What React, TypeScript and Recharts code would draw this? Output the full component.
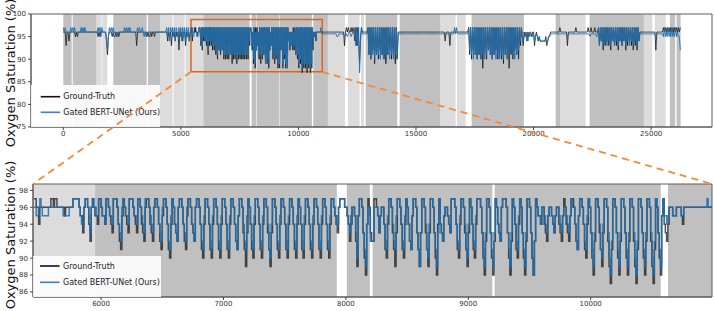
import React from "react";
import { ComposedChart, Line, XAxis, YAxis, ReferenceArea, Legend } from "recharts";

const FONT = "'DejaVu Sans', sans-serif";

// ---------------- data ----------------
// sleep-stage background bands (sample index)
const darkBands: [number, number][] = [
  [0, 357], [400, 1420], [2126, 3546], [3601, 4112], [5951, 7926], [8008, 8196], [8218, 9196],
  [9216, 10572], [10632, 11255], [12858, 14202], [14304, 16047], [17365, 19589], [20937, 21150],
  [22383, 24692], [25797, 26020], [26080, 26252],
];
const lightBands: [number, number][] = [
  [1420, 1633], [1660, 1871], [4112, 4650], [4690, 5160], [5200, 5951], [11255, 11978], [12105, 12600],
  [12660, 12786], [16047, 16685], [16740, 17110], [21150, 22213], [24692, 25045], [25160, 25615],
];

const topXTicks = [0, 5000, 10000, 15000, 20000, 25000];
const topYTicks = [75, 80, 85, 90, 95, 100];
const zoomXTicks = [6000, 7000, 8000, 9000, 10000];
const zoomYTicks = [86, 88, 90, 92, 94, 96, 98];
const zoomBox = [5430, 11012, 87.2, 98.8]; // x1, x2, y1, y2 of the magnified window

// SpO2 traces, one character per sample: '0'-'9' -> 90-99, a=89, b=88, c=87, d=86, h=95.6
const gtHead = [
  "666", "3", "66", "4", "666666", "565", "666666666666666666666", "5656", "66666", "4", "1", "5", "666",
  "565565656", "6666666666666666", "6", "3", "6666666666", "565565665666", "666666666",
  "646563656465626564663656466",
].join("");
const predHead = [
  "76766", "66", "6767676", "66666", "767676", "666666666666", "767576", "666", "4", "2", "5", "767676",
  "6656666666", "7676767666666", "6", "76766765656666", "66666666666666666", "757476757476575747574757467",
].join("");

const gtDetail = [
  "7766466666", "6666776776", "6666656666", "6677777655", "3677642",
  "676554", "776554", "776543", "7776421", "576543", "7776543", "776432", "6776432", "6776421", "5776410",
  "476432", "6776421", "5776432", "6776410", "4776410", "4776410", "4776410", "4776421", "577631a", "376410",
  "4776410", "477631a", "3776410", "4776410", "4776410", "476410", "4776410", "4776410", "4776410", "4776543",
  "6777766542", "46652a", "577630b", "47632277653", "566410", "477631a", "3776410", "476421", "577631a",
  "377631a", "377630b", "47432", "566543", "7776410", "477631a", "376410", "4777630b", "277630b", "276432",
  "6777630b", "276410", "47630b", "277630b", "276554", "66432", "566543", "566432", "576432", "5776421",
  "5776410", "47630b", "277631a", "37762ac", "177630b", "277630b", "27762ac", "177630b", "27762ac", "17630b",
  "57432", "4666555666654", "666666666666666666666666",
].join("");
const predDetail = [
  "6655676555", "5566666666", "6666555556", "6677777654", "4677653",
  "676655", "776554", "776554", "7776432", "676554", "7776554", "776543", "7776543", "6776432", "6776421",
  "576432", "6776432", "6776432", "6776421", "5776421", "5776421", "5776421", "5776421", "5776421", "576421",
  "5776421", "5776410", "4776421", "5776421", "5776421", "576421", "5776421", "5776421", "5776421", "5776554",
  "6777766543", "566530", "577631a", "46522266653", "566421", "5776421", "5776421", "576421", "577631a",
  "3776410", "477631a", "37432", "566543", "7776421", "5776410", "476421", "5777631a", "377631a", "376432",
  "6777631a", "376421", "57631a", "377630b", "276554", "66543", "566543", "566543", "566543", "5766421",
  "5776421", "57631a", "3776410", "477630b", "277631a", "377631a", "377630b", "277631a", "377630b", "27631a",
  "57554", "5666555666655", "6666666666666666666", "7", "6666",
].join("");

const gtTail = [
  "6666666666666666", "66", "666666", "3", "6", "767667676", "47374a57", "666666",
  "7170727a71", "707271707a", "717270717a", "70", "6666666666",
  "6666666666666666666666666666666666666666", "4", "666", "6", "3", "6666666666666666666",
  "7170727170", "71707b7170", "7271707172", "7071707a71", "707b717072", "71707375",
  "3", "65646566566", "3", "5654544444453", "4556666",
  "666666", "7", "6666666", "3", "66666666", "7", "66666666666", "676676667666",
  "7374727374", "7372747373", "7274737472", "7374737273", "7274", "6",
  "6666666666666666", "2", "6666666", "7676767676767676767",
].join("");
const predTail = [
  "hhhhhhhhhhhhhhhh", "55", "hhhhhh", "5", "h", "h5h6h5h6h", "73737c47", "hhhhhh",
  "7170717071", "7170717071", "7170717071", "70", "hhhhhhhhhh",
  "hhhhhhhhhhhhhhhhhhhhhhhhhhhhhhhhhhhhhhhh", "h", "hhh", "h", "5", "hhhh7h7h", "hhhhhhhhhhh",
  "7271707170", "7170717071", "7271707170", "7170717071", "7071727170", "71727475",
  "4", "5h5h4h5hh5h", "4", "5h54544444444", "455hhhh",
  "hhhhhhhhhhhhhh", "5", "hhhhhhhhhhhhhhhhhhhh", "hhh5hhhhhh5h",
  "7374737473", "7473747374", "7374737473", "7473747374", "7374", "h",
  "hhhhhhhhhhhhhhhh5hhhhhhh", "5756575657565756552",
].join("");

const LETTER: Record<string, number> = { a: 89, b: 88, c: 87, d: 86, h: 95.6 };
const decode = (s: string) => s.split("").map((c) => (c >= "0" && c <= "9" ? 90 + Number(c) : LETTER[c]));

type Row = { t: number; gt: number; pred: number };
const rows = (start: number, step: number, gt: string, pred: string): Row[] => {
  const g = decode(gt);
  const p = decode(pred);
  const n = Math.min(g.length, p.length);
  const out: Row[] = [];
  for (let i = 0; i < n; i++) out.push({ t: start + i * step, gt: g[i], pred: p[i] });
  return out;
};

const detailRows = rows(5450, 10, gtDetail, predDetail);
const overviewRows = [...rows(0, 40, gtHead, predHead), ...detailRows, ...rows(11000, 40, gtTail, predTail)];

// ---------------- layout ----------------
const W = 714;
const TOP = { h: 150, top: 14, bottom: 3, right: 2, yw: 31, xh: 20, xd: [-1373, 27587], yd: [75, 100] };
const BOT = { y0: 150, h: 161, top: 34, bottom: 0, right: 2, yw: 33, xh: 14, xd: [5444, 10991], yd: [85.4, 98.75] };

const DARK = "#c0c0c0";
const LIGHT = "#dcdcdc";
const GT_COLOR = "#1a1a1a";
const PRED_COLOR = "#1f6fb0";
const ORANGE_BOX = "#d9651f";
const ORANGE_DASH = "#f5883a";

const tickStyle = { fontSize: 7, fill: "#333", fontFamily: FONT };

const LegendBox = ({ w, h, y1, y2, lx, tx }: { w: number; h: number; y1: number; y2: number; lx: number; tx: number }) => (
  <svg width={w} height={h} style={{ display: "block" }}>
    <rect x={0} y={0} width={w} height={h} fill="#ffffff" fillOpacity={0.88} />
    <line x1={lx} x2={lx + 19.5} y1={y1} y2={y1} stroke="#111" strokeWidth={1.6} />
    <line x1={lx} x2={lx + 19.5} y1={y2} y2={y2} stroke="#3b7dd8" strokeWidth={1.6} />
    <text x={tx} y={y1} dominantBaseline="central" fontSize={8} fontFamily={FONT} fill="#222">Ground-Truth</text>
    <text x={tx} y={y2} dominantBaseline="central" fontSize={8} fontFamily={FONT} fill="#222">Gated BERT-UNet (Ours)</text>
  </svg>
);

const YLabel = ({ x, y }: { x: number; y: number }) => (
  <text
    x={x}
    y={y}
    transform={`rotate(-90 ${x} ${y})`}
    textAnchor="middle"
    fontSize={13}
    fontFamily={FONT}
    fill="#111"
  >
    Oxygen Saturation (%)
  </text>
);

const bandAreas = (prefix: string) => [
  ...darkBands.map(([a, b], i) => (
    <ReferenceArea key={prefix + "d" + i} x1={a} x2={b} fill={DARK} fillOpacity={1} stroke="none" ifOverflow="hidden" />
  )),
  ...lightBands.map(([a, b], i) => (
    <ReferenceArea key={prefix + "l" + i} x1={a} x2={b} fill={LIGHT} fillOpacity={1} stroke="none" ifOverflow="hidden" />
  )),
];

export default function App() {
  // connector geometry derived from the overview plot scale
  const tpw = W - TOP.yw - TOP.right;
  const tph = TOP.h - TOP.top - TOP.bottom - TOP.xh;
  const sx = (v: number) => TOP.yw + ((v - TOP.xd[0]) / (TOP.xd[1] - TOP.xd[0])) * tpw;
  const sy = (v: number) => TOP.top + ((TOP.yd[1] - v) / (TOP.yd[1] - TOP.yd[0])) * tph;
  const boxLeft = sx(zoomBox[0]);
  const boxRight = sx(zoomBox[1]);
  const boxBottom = sy(zoomBox[2]);
  const detailTop = BOT.y0 + BOT.top;

  return (
    <div style={{ position: "absolute", left: 0, top: 0, width: W, height: 311, background: "#fff", fontFamily: FONT }}>
      <div style={{ position: "absolute", left: 0, top: 0 }}>
        <ComposedChart
          width={W}
          height={TOP.h}
          data={overviewRows}
          margin={{ top: TOP.top, right: TOP.right, bottom: TOP.bottom, left: 0 }}
        >
          {bandAreas("t")}
          <XAxis
            dataKey="t"
            type="number"
            domain={TOP.xd}
            allowDataOverflow
            ticks={topXTicks}
            interval={0}
            height={TOP.xh}
            tick={tickStyle}
            tickSize={3}
            tickMargin={1}
            tickLine={{ stroke: "#444" }}
            axisLine={{ stroke: "#5a5a5a" }}
          />
          <YAxis
            type="number"
            domain={TOP.yd}
            allowDataOverflow
            ticks={topYTicks}
            interval={0}
            width={TOP.yw}
            tick={tickStyle}
            tickSize={3}
            tickMargin={2}
            tickLine={{ stroke: "#444" }}
            axisLine={{ stroke: "#5a5a5a" }}
          />
          <Line dataKey="gt" stroke={GT_COLOR} strokeOpacity={0.8} strokeWidth={1} dot={false} isAnimationActive={false} />
          <Line dataKey="pred" stroke={PRED_COLOR} strokeOpacity={0.9} strokeWidth={1} dot={false} isAnimationActive={false} />
          <ReferenceArea
            x1={zoomBox[0]}
            x2={zoomBox[1]}
            y1={zoomBox[2]}
            y2={zoomBox[3]}
            fill="none"
            stroke={ORANGE_BOX}
            strokeWidth={1.5}
            ifOverflow="visible"
          />
          <ReferenceArea x1={TOP.xd[0]} x2={TOP.xd[1]} y1={TOP.yd[0]} y2={TOP.yd[1]} fill="none" stroke="#5a5a5a" strokeWidth={1} ifOverflow="visible" />
          <Legend
            layout="horizontal"
            align="center"
            verticalAlign="middle"
            wrapperStyle={{ left: 31, top: 85, width: 129, height: 42 }}
            content={() => <LegendBox w={129} h={42} y1={11.7} y2={27.3} lx={9.7} tx={32.3} />}
          />
          <YLabel x={15} y={73} />
        </ComposedChart>
      </div>

      <div style={{ position: "absolute", left: 0, top: BOT.y0 }}>
        <ComposedChart
          width={W}
          height={BOT.h}
          data={detailRows}
          margin={{ top: BOT.top, right: BOT.right, bottom: BOT.bottom, left: 0 }}
        >
          {bandAreas("b")}
          <XAxis
            dataKey="t"
            type="number"
            domain={BOT.xd}
            allowDataOverflow
            ticks={zoomXTicks}
            interval={0}
            height={BOT.xh}
            tick={tickStyle}
            tickSize={3}
            tickMargin={1}
            tickLine={{ stroke: "#444" }}
            axisLine={{ stroke: "#5a5a5a" }}
          />
          <YAxis
            type="number"
            domain={BOT.yd}
            allowDataOverflow
            ticks={zoomYTicks}
            interval={0}
            width={BOT.yw}
            tick={tickStyle}
            tickSize={3}
            tickMargin={2}
            tickLine={{ stroke: "#444" }}
            axisLine={{ stroke: "#5a5a5a" }}
          />
          <Line type="stepAfter" dataKey="gt" stroke={GT_COLOR} strokeOpacity={0.75} strokeWidth={1.5} dot={false} isAnimationActive={false} />
          <Line type="stepAfter" dataKey="pred" stroke={PRED_COLOR} strokeOpacity={0.85} strokeWidth={1.5} dot={false} isAnimationActive={false} />
          <ReferenceArea x1={BOT.xd[0]} x2={BOT.xd[1]} y1={BOT.yd[0]} y2={BOT.yd[1]} fill="none" stroke="#5a5a5a" strokeWidth={1} ifOverflow="visible" />
          <Legend
            layout="horizontal"
            align="center"
            verticalAlign="middle"
            wrapperStyle={{ left: 33, top: 106, width: 128, height: 41 }}
            content={() => <LegendBox w={128} h={41} y1={10} y2={26.3} lx={7} tx={30} />}
          />
          <YLabel x={15} y={85} />
        </ComposedChart>
      </div>

      <svg width={W} height={311} style={{ position: "absolute", left: 0, top: 0, pointerEvents: "none" }}>
        <line x1={boxLeft} y1={boxBottom} x2={BOT.yw} y2={detailTop} stroke={ORANGE_DASH} strokeWidth={1.8} strokeDasharray="7 5" />
        <line x1={boxRight} y1={boxBottom} x2={W - BOT.right} y2={detailTop} stroke={ORANGE_DASH} strokeWidth={1.8} strokeDasharray="7 5" />
      </svg>
    </div>
  );
}
